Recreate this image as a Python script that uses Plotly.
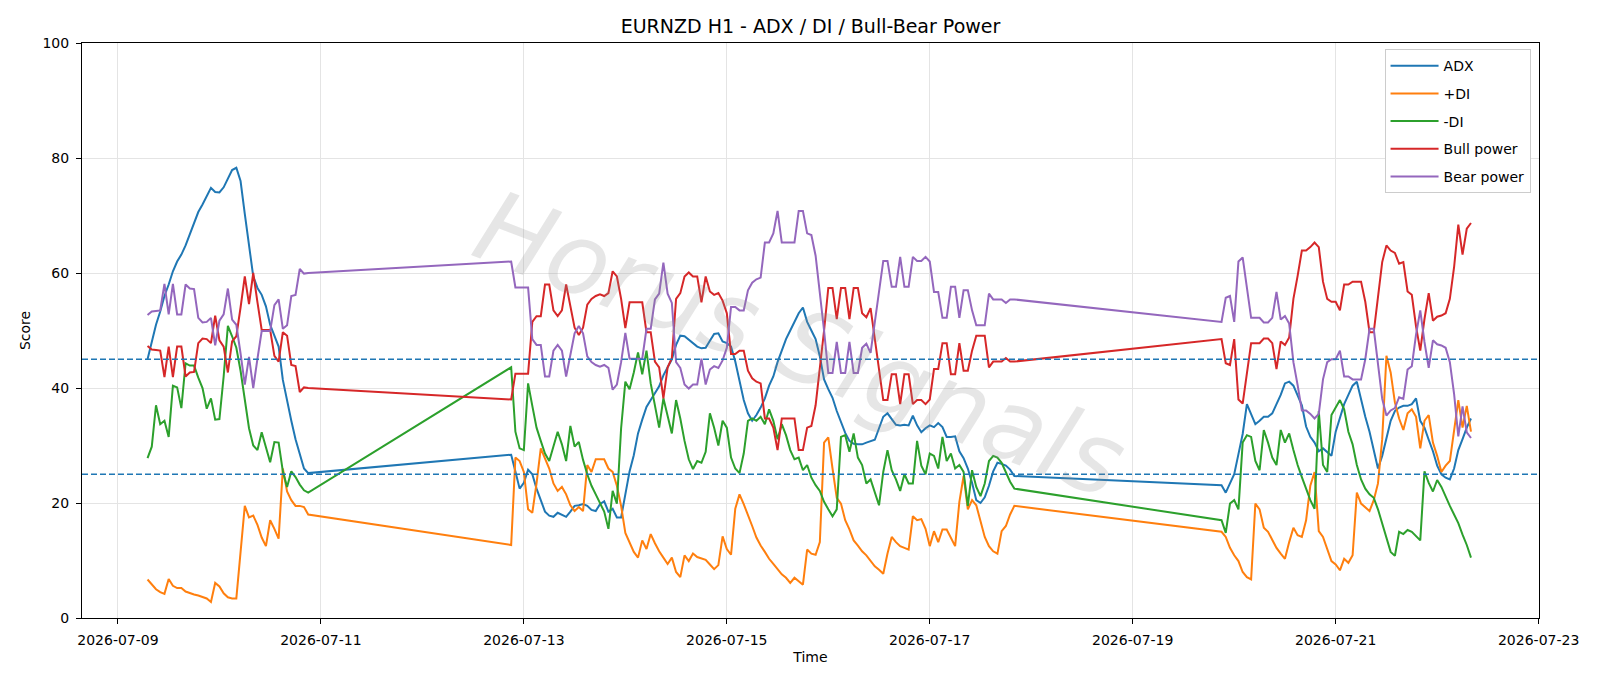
import pandas as pd
import plotly.graph_objects as go

# ---------------- data (hourly bars, three trading blocks) ----------------
block_starts = ["2026-07-09 07:00", "2026-07-12 21:00", "2026-07-19 21:00"]

adx_b1 = [45, 48, 51, 53.3, 56, 58, 60.3, 62, 63.2, 64.8, 66.7, 68.7, 70.6, 71.9, 73.5, 74.8, 74.1, 74.0,
          74.9, 76.4, 77.9, 78.3, 76, 70.3, 64.5, 59.4, 57.4, 56.2, 54.2, 51, 49.1, 47.2, 41.4, 37.5,
          34.3, 31.1, 28.6, 26, 25.2]
adx_b2 = [28.4, 25.5, 22.5, 23.5, 25.8, 25.0, 22.5, 20.5, 18.5, 17.8,
          17.6, 18.3, 18.0, 17.6, 18.5, 19.5, 19.6, 19.8, 19.5, 18.8,
          18.6, 19.8, 20.3, 18.5, 19.0, 17.5, 17.5, 21.8, 25.5, 28.3,
          32.1, 34.5, 36.7, 37.9, 39.2, 40.3, 42.2, 43.6, 45.0, 47.5,
          49.1, 49.0, 48.4, 47.8, 47.2, 46.9, 47.0, 48.2, 49.4, 49.5,
          48.1, 47.8, 47.2, 44.6, 41.1, 37.9, 35.6, 34.3, 35.3, 36.6,
          38.2, 40.4, 42.0, 44.5, 46.5, 48.5, 50.0, 51.5, 53.0, 54.0,
          51.5, 50.0, 48.5, 45.5, 41.5, 39.8, 38.3, 36.0, 34.0, 32.2,
          30.8, 30.3, 30.2, 30.2, 30.5, 30.7, 31.0, 33.0, 35.0, 35.6,
          34.5, 33.6, 33.5, 33.6, 33.5, 35.2, 33.5, 32.3, 33.0, 33.5,
          33.2, 33.9, 33.2, 31.5, 31.5, 31.6, 29.0, 27.8, 26.0, 23.5,
          20.5, 20.0, 21.0, 23.0, 25.5, 27.0, 26.8, 26.5, 25.8, 24.7]
adx_b3 = [23.1, 21.8, 23.4, 25.0, 28.5, 32.0, 37.2, 35.6, 33.7, 34.3,
          35.0, 35.0, 35.6, 37.2, 38.8, 40.8, 41.1, 40.4, 38.8, 37.0,
          33.3, 31.5, 30.5, 29.0, 29.5, 28.9, 28.2, 32.4, 35.0, 37.2,
          38.8, 40.4, 41.1, 37.9, 35.0, 32.4, 29.2, 26.0, 28.2, 31.5,
          34.3, 36.0, 36.6, 36.9, 36.9, 37.2, 38.2, 34.3, 33.1, 31.0,
          29.0, 26.5, 25.0, 24.4, 24.1, 26.0, 29.2, 31.1, 33.1, 34.7]

pdi_b1 = [6.7, 5.8, 5.0, 4.5, 4.2, 6.8, 5.6, 5.2, 5.2, 4.6, 4.3, 4.1, 3.9, 3.7, 3.4, 2.8, 6.1, 5.5,
          4.3, 3.6, 3.4, 3.4, 11, 19.5, 17.5, 17.8, 16.2, 14.0, 12.5, 17.0, 15.5, 13.8, 26.0, 22,
          20.5, 19.5, 19.5, 19.3, 18]
pdi_b2 = [12.7, 27.9, 27.3, 25.4, 18.9, 18.3, 23.4, 29.5, 27.9, 26.0,
          23.4, 22.1, 22.8, 21.5, 19.6, 18.6, 19.3, 18.6, 26.6, 25.4,
          27.6, 27.6, 27.6, 26.0, 25.4, 23.0, 19.5, 14.8, 13.3, 11.5,
          10.5, 13.5, 12.0, 14.6, 13.0, 11.6, 10.5, 9.4, 10.5, 8.0,
          7.1, 10.9, 9.9, 11.2, 10.6, 10.3, 10.1, 9.3, 8.5, 9.2,
          14.2, 12.0, 11.0, 19.0, 21.5, 19.8, 18.0, 16.0, 14.0, 12.6,
          11.5, 10.3, 9.4, 8.5, 7.6, 7.0, 6.1, 7.0, 6.4, 5.8,
          11.9, 11.2, 11.0, 13.2, 30.5, 31.4, 26.0, 20.9, 19.9, 17.0,
          15.4, 13.5, 12.6, 11.6, 10.9, 9.9, 9.0, 8.4, 7.7, 11.2,
          14.1, 13.2, 12.5, 12.2, 11.9, 17.7, 17.0, 17.2, 15.5, 12.5,
          15.1, 13.2, 15.4, 15.4, 13.8, 12.5, 20.2, 24.7, 18.9, 20.5,
          19.6, 17.0, 14.1, 12.5, 11.6, 11.2, 15.1, 16.0, 18.0, 19.5]
pdi_b3 = [15.0, 14.1, 12.2, 10.9, 9.9, 8.0, 7.1, 6.7, 19.9, 18.9,
          15.7, 15.0, 13.5, 12.2, 11.2, 10.3, 13.2, 15.7, 14.4, 14.1,
          17.0, 23.0, 25.4, 15.1, 14.1, 11.9, 9.9, 9.3, 8.3, 10.3,
          9.6, 10.9, 21.8, 19.9, 19.3, 18.6, 20.5, 23.4, 31.1, 45.6,
          42.7, 37.5, 34.7, 32.7, 35.6, 36.3, 35.0, 29.5, 34.3, 35.3,
          30.5, 28.2, 25.4, 26.5, 27.3, 32.4, 37.9, 33.1, 36.9, 32.4]

mdi_b1 = [27.8, 29.8, 37, 33.7, 34.3, 31.5, 40.4, 40.1, 36.5, 44.3, 43.9, 43.9, 41.8, 40.0, 36.4, 38.2,
          34.5, 34.6, 42, 50.8, 49, 47, 43, 38, 33, 30, 29.2, 32.3, 29.8, 27.1, 30.6, 30.5, 25.5, 22.8,
          25.5, 24.5, 23.2, 22.2, 21.8]
mdi_b2 = [43.6, 32.4, 29.5, 29.2, 40.8, 36.9, 33.1, 30.8, 28.6, 27.3,
          30.0, 32.4, 30.2, 27.3, 33.4, 29.8, 30.6, 27.5, 25.0, 23.0,
          21.5, 20.0, 18.5, 15.5, 22.1, 19.9, 33.0, 41.1, 39.8, 42.7,
          46.2, 42.4, 46.5, 40.8, 36.9, 33.1, 38.2, 35.3, 32.1, 37.9,
          34.7, 30.8, 27.6, 25.9, 27.3, 27.0, 28.9, 35.6, 33.1, 30.0,
          34.3, 33.1, 27.9, 26.0, 25.2, 28.6, 34.3, 34.7, 34.3, 35.0,
          33.7, 36.3, 34.3, 31.1, 33.7, 31.8, 29.2, 27.6, 27.9, 25.7,
          26.6, 24.4, 23.1, 22.1, 20.2, 18.9, 17.7, 18.9, 31.5, 31.8,
          28.9, 32.1, 27.9, 26.6, 23.4, 24.1, 21.8, 19.6, 25.4, 29.2,
          25.7, 24.1, 22.1, 25.0, 23.4, 23.4, 30.8, 26.5, 25.0, 28.6,
          28.2, 26.0, 31.5, 27.3, 28.6, 26.0, 26.6, 25.4, 19.5, 25.7,
          22.8, 21.2, 23.4, 27.3, 28.2, 27.9, 27.0, 25.4, 23.7, 22.5]
mdi_b3 = [17.0, 14.8, 19.9, 20.5, 18.9, 30.5, 31.8, 31.5, 27.3, 25.7,
          32.7, 30.5, 27.9, 26.6, 32.7, 30.5, 32.1, 29.2, 26.6, 24.5,
          22.6, 20.5, 19.0, 36.0, 26.6, 25.4, 35.3, 36.6, 37.9, 36.3,
          32.4, 30.2, 26.6, 24.1, 22.5, 21.5, 20.9, 18.9, 16.4, 13.8,
          11.5, 10.8, 15.0, 14.6, 15.3, 15.0, 14.2, 13.5, 25.5, 23.5,
          22.0, 24.0, 22.8, 21.0, 19.5, 18.0, 16.5, 14.5, 12.7, 10.5]

bull_b1 = [47.3, 46.7, 46.6, 46.5, 41.9, 47.2, 41.9, 47.2, 47.2, 42.0, 42.7, 42.8, 47.8, 48.6, 48.5,
           47.8, 52.6, 48.3, 47.2, 42.7, 48.1, 49, 54, 59.4, 54.6, 60, 54.9, 50.1, 50.1, 50.1, 45.6,
           44.6, 49.7, 49.1, 44, 43.8, 39.3, 40.1, 40.0]
bull_b2 = [38.0, 42.5, 42.5, 42.5, 42.5, 51.5, 52.5, 52.5, 58.0, 58.0,
           53.5, 52.5, 53.5, 58.0, 54.5, 50.5, 49.2, 50.5, 54.5, 55.5,
           56.0, 56.3, 56.0, 56.5, 60.3, 59.4, 55.5, 50.4, 54.9, 54.9,
           54.9, 54.9, 49.7, 49.7, 44.6, 43.6, 38.2, 43.6, 45.2, 55.5,
           56.5, 59.4, 60.1, 59.4, 59.4, 54.9, 59.4, 56.8, 56.2, 56.5,
           55.2, 53.0, 45.9, 45.9, 46.5, 46.5, 43.0, 41.7, 41.1, 40.8,
           34.7, 34.7, 33.1, 29.2, 34.7, 34.7, 34.7, 34.7, 29.2, 29.2,
           33.1, 33.4, 37.0, 43.0, 50.0, 57.4, 57.4, 52.0, 57.4, 57.4,
           52.0, 57.4, 57.4, 53.0, 52.3, 53.9, 48.5, 44.0, 37.9, 37.9,
           42.4, 42.4, 37.2, 42.4, 42.4, 37.2, 37.9, 37.9, 37.2, 38.0,
           43.3, 43.3, 47.8, 47.8, 42.4, 42.4, 47.8, 43.0, 43.0, 46.5,
           49.1, 49.1, 49.1, 43.6, 44.6, 44.6, 44.6, 45.2, 44.6, 44.6]
bull_b3 = [48.5, 44.3, 44.0, 48.5, 38.0, 37.3, 42.7, 47.8, 47.8, 47.8,
           48.6, 48.6, 47.8, 43.3, 48.1, 47.5, 48.8, 55.5, 59.5, 63.9,
           63.9, 64.5, 65.3, 64.5, 58.5, 55.5, 55.0, 55.0, 53.5, 58.0,
           58.0, 58.5, 58.5, 58.5, 55.0, 49.7, 49.7, 55.5, 61.9, 64.8,
           63.9, 63.5, 61.6, 61.9, 56.8, 56.2, 50.7, 46.5, 52.0, 56.5,
           51.7, 52.4, 52.6, 53.0, 55.5, 61.0, 68.4, 63.2, 67.7, 68.7]

bear_b1 = [52.7, 53.3, 53.4, 53.5, 58.1, 52.8, 58.1, 52.8, 52.8, 58.0, 57.3, 57.2, 52.2, 51.4, 51.5,
           52.2, 47.4, 51.7, 52.8, 57.3, 51.9, 51.0, 46.0, 40.6, 45.4, 40.0, 45.1, 49.9, 49.9, 49.9,
           54.4, 55.4, 50.3, 50.9, 56.0, 56.2, 60.7, 59.9, 60.0]
bear_b2 = [62.0, 57.5, 57.5, 57.5, 57.5, 48.5, 47.5, 47.5, 42.0, 42.0,
           46.5, 47.5, 46.5, 42.0, 45.5, 49.5, 50.8, 49.5, 45.5, 44.5,
           44.0, 43.7, 44.0, 43.5, 39.7, 40.6, 44.5, 49.6, 45.1, 45.1,
           45.1, 45.1, 50.3, 50.3, 55.4, 56.4, 61.8, 56.4, 54.8, 44.5,
           43.5, 40.6, 39.9, 40.6, 40.6, 45.1, 40.6, 43.2, 43.8, 43.5,
           44.8, 47.0, 54.1, 54.1, 53.5, 53.5, 57.0, 58.3, 58.9, 59.2,
           65.3, 65.3, 66.9, 70.8, 65.3, 65.3, 65.3, 65.3, 70.8, 70.8,
           66.9, 66.6, 63.0, 57.0, 50.0, 42.6, 42.6, 48.0, 42.6, 42.6,
           48.0, 42.6, 42.6, 47.0, 47.7, 46.1, 51.5, 56.0, 62.1, 62.1,
           57.6, 57.6, 62.8, 57.6, 57.6, 62.8, 62.1, 62.1, 62.8, 62.0,
           56.7, 56.7, 52.2, 52.2, 57.6, 57.6, 52.2, 57.0, 57.0, 53.5,
           50.9, 50.9, 50.9, 56.4, 55.4, 55.4, 55.4, 54.8, 55.4, 55.4]
bear_b3 = [51.5, 55.7, 56.0, 51.5, 62.0, 62.7, 57.3, 52.2, 52.2, 52.2,
           51.4, 51.4, 52.2, 56.7, 51.9, 52.5, 51.2, 44.5, 40.5, 36.1,
           36.1, 35.5, 34.7, 35.5, 41.5, 44.5, 45.0, 45.0, 46.5, 42.0,
           42.0, 41.5, 41.5, 41.5, 45.0, 50.3, 50.3, 44.5, 38.1, 35.2,
           36.1, 36.5, 38.4, 38.1, 43.2, 43.8, 49.3, 53.5, 48.0, 43.5,
           48.3, 47.6, 47.4, 47.0, 44.5, 39.0, 31.6, 36.8, 32.3, 31.3]

thresholds = [45, 25]
x_ticks = ["2026-07-09", "2026-07-11", "2026-07-13", "2026-07-15",
           "2026-07-17", "2026-07-19", "2026-07-21", "2026-07-23"]
y_ticks = [0, 20, 40, 60, 80, 100]

series = [
    ("ADX", [adx_b1, adx_b2, adx_b3], "#1f77b4"),
    ("+DI", [pdi_b1, pdi_b2, pdi_b3], "#ff7f0e"),
    ("-DI", [mdi_b1, mdi_b2, mdi_b3], "#2ca02c"),
    ("Bull power", [bull_b1, bull_b2, bull_b3], "#d62728"),
    ("Bear power", [bear_b1, bear_b2, bear_b3], "#9467bd"),
]


def build(blocks):
    xs, ys = [], []
    for start, vals in zip(block_starts, blocks):
        xs += list(pd.date_range(start, periods=len(vals), freq="h"))
        ys += list(vals)
    return xs, ys


FONT = "DejaVu Sans"
fig = go.Figure()
for i, (name, blocks, color) in enumerate(series):
    xs, ys = build(blocks)
    fig.add_trace(go.Scatter(x=xs, y=ys, mode="lines", name=name,
                             legendgroup=f"g{i}",
                             line=dict(color=color, width=2)))

for t in thresholds:
    fig.add_hline(y=t, line=dict(color="#1f77b4", width=1.4, dash="6px,3px"))

fig.add_annotation(text="Horus Signals", xref="paper", yref="paper",
                   x=0.493, y=0.475, showarrow=False, textangle=21,
                   font=dict(family=FONT, size=100, color="rgba(140,140,140,0.22)",
                             style="italic", weight=200))

axis_common = dict(showline=True, linecolor="black", linewidth=1, mirror=True,
                   ticks="outside", ticklen=5, tickwidth=1, tickcolor="black",
                   showgrid=True, gridcolor="#e4e4e4", gridwidth=1,
                   zeroline=False, ticklabelstandoff=4,
                   tickfont=dict(family=FONT, size=14, color="black"))

fig.update_layout(
    width=1600, height=686,
    paper_bgcolor="white", plot_bgcolor="white",
    margin=dict(l=82, r=61, t=43, b=68),
    font=dict(family=FONT, size=14, color="black"),
    title=dict(text="EURNZD H1 - ADX / DI / Bull-Bear Power", xref="paper", x=0.5,
               xanchor="center", yref="container", y=1 - 26 / 686, yanchor="middle",
               font=dict(family=FONT, size=19, color="black")),
    xaxis=dict(axis_common, type="date",
               range=["2026-07-08 15:30", "2026-07-23 00:05"],
               tickvals=x_ticks, ticktext=x_ticks,
               title=dict(text="Time", standoff=5, font=dict(family=FONT, size=14))),
    yaxis=dict(axis_common, range=[0, 100], tickvals=y_ticks,
               title=dict(text="Score", standoff=8, font=dict(family=FONT, size=14))),
    legend=dict(x=0.9942, y=0.9894, xanchor="right", yanchor="top",
                bgcolor="white", bordercolor="#cccccc", borderwidth=1,
                font=dict(family=FONT, size=14), tracegroupgap=6.5,
                itemwidth=48),
    showlegend=True,
)

fig.write_html("out.html")
